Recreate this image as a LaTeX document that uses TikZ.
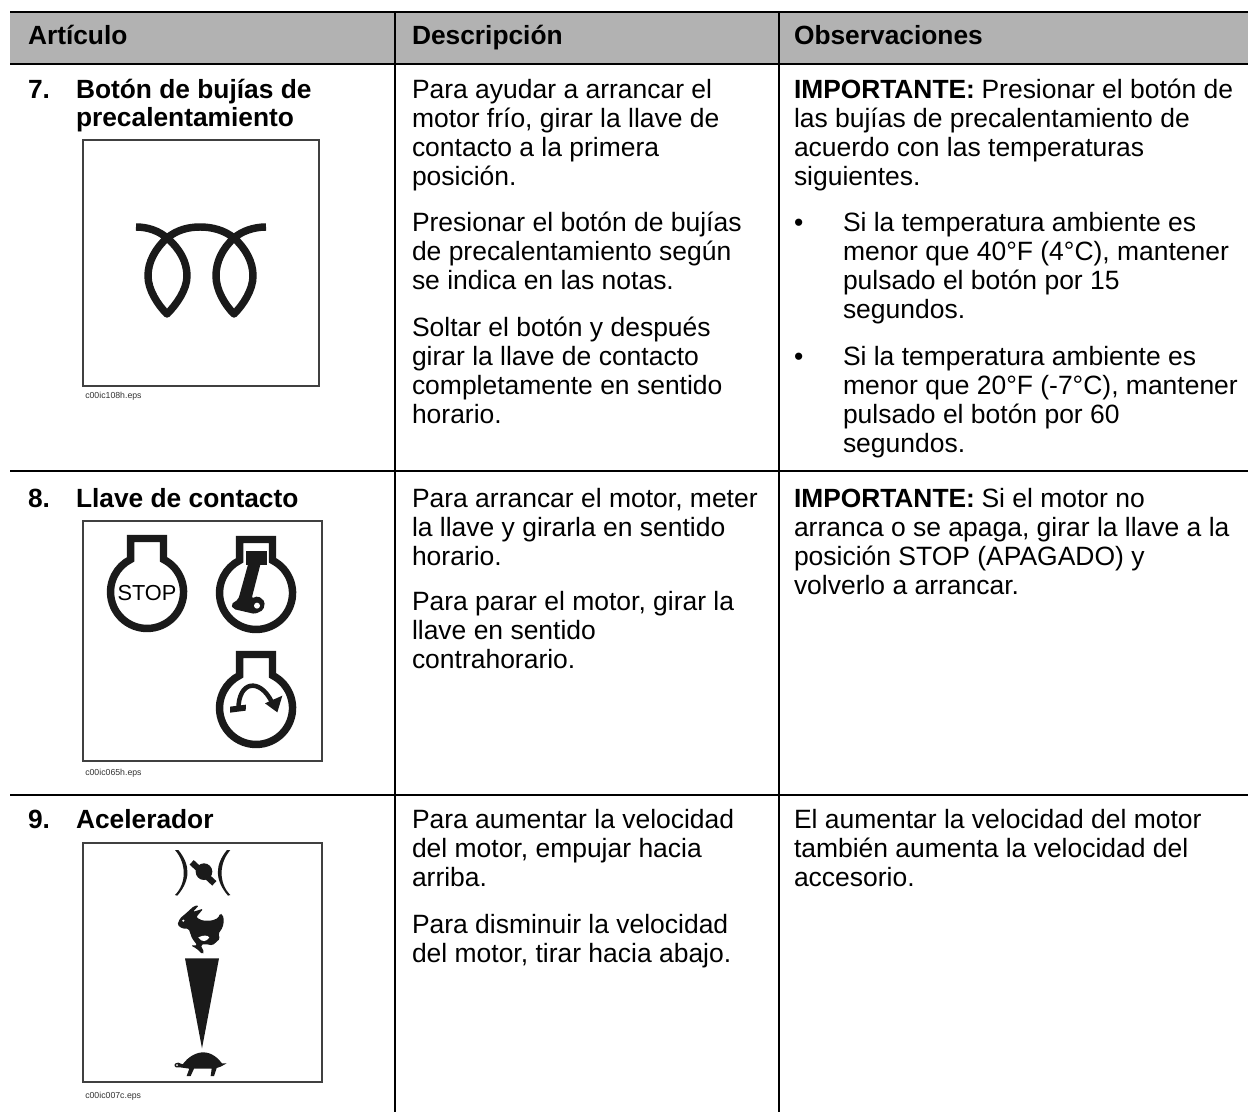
\documentclass[tikz,border=0pt]{standalone}
\usepackage{fontspec}
\setmainfont{Liberation Sans}
\definecolor{ink}{HTML}{1A1A1A}
\tikzset{
 x=0.75pt,y=-0.75pt,
 txt/.style={anchor=base west,inner sep=0pt,outer sep=0pt,font=\fontsize{19.85}{24}\selectfont,text=black},
 btxt/.style={txt,font=\fontsize{19.75}{24}\selectfont\bfseries},
 hd/.style={btxt},
 captxt/.style={anchor=base west,inner sep=0pt,font=\fontsize{6.55}{8}\selectfont,text=black!80},
 hrule/.style={line width=1.9pt,black},
 vrule/.style={line width=1.3pt,black},
 framebox/.style={draw=black!75,line width=0.9pt,fill=white},
 sym/.style={draw=ink,line width=5.6pt,fill=none,line join=miter},
 zoomed/.style={x=0.25pt,y=-0.25pt}
}
\newcommand{\keyshape}[3]{% centre x, centre y
 \draw[sym,#3] ({#1-16.5},{#2-53.5}) -- ({#1+16.5},{#2-53.5}) -- ({#1+16.5},{#2-32.6}) arc[start angle=-63.2,end angle=243.2,radius=36.5] -- cycle;
}
\begin{document}
\begin{tikzpicture}
\useasboundingbox (0,0) rectangle (1248,1112);
\fill[white] (0,0) rectangle (1248,1112);
\fill[black!30] (10,12) rectangle (1248,64);
\coordinate (hl) at (10,12); \coordinate (hr) at (1248,12);
\coordinate (ml) at (10,64); \coordinate (mr) at (1248,64);
\coordinate (al) at (10,471); \coordinate (ar) at (1248,471);
\coordinate (bl) at (10,795); \coordinate (br) at (1248,795);
\coordinate (ct) at (395,12); \coordinate (cb) at (395,1112);
\coordinate (dt) at (779,12); \coordinate (db) at (779,1112);
\draw[hrule] (hl) -- (hr);
\draw[hrule] (ml) -- (mr);
\draw[vrule] (al) -- (ar);
\draw[vrule] (bl) -- (br);
\draw[vrule] (ct) -- (cb);
\draw[vrule] (dt) -- (db);
% header
\node[hd] (h1) at (28,45) {Artículo};
\node[hd] (h2) at (412,45) {Descripción};
\node[hd] (h3) at (794,45) {Observaciones};
% column 1
\node[btxt] (n7) at (28,99) {7.};
\node[btxt] (t7a) at (76,99) {Botón de bujías de};
\node[btxt] (t7b) at (76,127) {precalentamiento};
\node[btxt] (n8) at (28,507) {8.};
\node[btxt] (t8) at (76,507) {Llave de contacto};
\node[btxt] (n9) at (28,828) {9.};
\node[btxt] (t9) at (76,828) {Acelerador};
% column 2
\node[txt] (d1) at (412,99) {Para ayudar a arrancar el};
\node[txt] (d2) at (412,128) {motor frío, girar la llave de};
\node[txt] (d3) at (412,157) {contacto a la primera};
\node[txt] (d4) at (412,186) {posición.};
\node[txt] (d5) at (412,232) {Presionar el botón de bujías};
\node[txt] (d6) at (412,261) {de precalentamiento según};
\node[txt] (d7) at (412,290) {se indica en las notas.};
\node[txt] (d8) at (412,336) {Soltar el botón y después};
\node[txt] (d9) at (412,365) {girar la llave de contacto};
\node[txt] (d10) at (412,394) {completamente en sentido};
\node[txt] (d11) at (412,423) {horario.};
\node[txt] (e1) at (412,507) {Para arrancar el motor, meter};
\node[txt] (e2) at (412,536) {la llave y girarla en sentido};
\node[txt] (e3) at (412,565) {horario.};
\node[txt] (e4) at (412,610) {Para parar el motor, girar la};
\node[txt] (e5) at (412,639) {llave en sentido};
\node[txt] (e6) at (412,668) {contrahorario.};
\node[txt] (f1) at (412,828) {Para aumentar la velocidad};
\node[txt] (f2) at (412,857) {del motor, empujar hacia};
\node[txt] (f3) at (412,886) {arriba.};
\node[txt] (f4) at (412,933) {Para disminuir la velocidad};
\node[txt] (f5) at (412,962) {del motor, tirar hacia abajo.};
% column 3
\node[btxt] (o0) at (794,99) {IMPORTANTE:};
\node[txt] (o1) at (o0.base east) [anchor=base west,xshift=5pt] {Presionar el botón de};
\node[txt] (o2) at (794,128) {las bujías de precalentamiento de};
\node[txt] (o3) at (794,157) {acuerdo con las temperaturas};
\node[txt] (o4) at (794,186) {siguientes.};
\node[txt] (b1) at (794,232) {•};
\node[txt] (o5) at (843,232) {Si la temperatura ambiente es};
\node[txt] (o6) at (843,261) {menor que 40°F (4°C), mantener};
\node[txt] (o7) at (843,290) {pulsado el botón por 15};
\node[txt] (o8) at (843,319) {segundos.};
\node[txt] (b2) at (794,365) {•};
\node[txt] (o9) at (843,365) {Si la temperatura ambiente es};
\node[txt] (o10) at (843,394) {menor que 20°F (-7°C), mantener};
\node[txt] (o11) at (843,423) {pulsado el botón por 60};
\node[txt] (o12) at (843,452) {segundos.};
\node[btxt] (p0) at (794,507) {IMPORTANTE:};
\node[txt] (p1) at (p0.base east) [anchor=base west,xshift=5pt] {Si el motor no};
\node[txt] (p2) at (794,536) {arranca o se apaga, girar la llave a la};
\node[txt] (p3) at (794,565) {posición STOP (APAGADO) y};
\node[txt] (p4) at (794,594) {volverlo a arrancar.};
\node[txt] (q1) at (794,828) {El aumentar la velocidad del motor};
\node[txt] (q2) at (794,857) {también aumenta la velocidad del};
\node[txt] (q3) at (794,886) {accesorio.};
% frames
\draw[framebox] (83,140) rectangle (319,386);
\node[captxt] (c1) at (85,398) {c00ic108h.eps};
\draw[framebox] (83,521) rectangle (322,761);
\node[captxt] (c2) at (85,775) {c00ic065h.eps};
\draw[framebox] (83,843) rectangle (322,1082);
\node[captxt] (c3) at (85,1098) {c00ic007c.eps};
% coil
\draw[draw=ink,line width=5.6pt,line join=round]
 (136,227) .. controls (148,227) and (159,231) .. (167,238)
 .. controls (180,249) and (187,262) .. (187,276)
 .. controls (187,290) and (176,305) .. (167,314)
 .. controls (158,305) and (148,290) .. (148,276)
 .. controls (148,262) and (155,249) .. (167,238)
 .. controls (177,230) and (188,227) .. (200,227)
 .. controls (212,227) and (224,230) .. (234,238)
 .. controls (246,249) and (253,262) .. (253,276)
 .. controls (253,290) and (243,305) .. (234,314)
 .. controls (225,305) and (216,290) .. (216,276)
 .. controls (216,262) and (222,249) .. (234,238)
 .. controls (242,231) and (254,227) .. (266,227);
% keys
\keyshape{147}{592}{}
\node[anchor=center,inner sep=0pt,font=\fontsize{16.3}{18}\selectfont,text=black] (stop) at (147,593) {STOP};
\keyshape{256}{593}{}
\keyshape{256}{708}{}
\begin{scope}[shift={(70,510)},zoomed]
 \fill[ink] (527,122) rectangle (590,165);
 \fill[ink,rounded corners=1.5pt] (535,160) -- (572,160) -- (545,265) -- (565,258) -- (585,275) -- (580,300) -- (555,312) -- (490,297) -- (483,283) -- (505,268) -- cycle;
 \fill[white] (561,287) circle[radius=9];
 % rotation arrow
 \draw[ink,line width=3.4pt] (505,600) .. controls (505,510) and (570,505) .. (605,575);
 \fill[ink] (480,590) -- (528,584) -- (527,602) -- (480,608) -- cycle;
 \fill[ink] (585,580) -- (637,557) -- (622,607) -- cycle;
\end{scope}
% throttle
\begin{scope}[shift={(70,830)},zoomed]
 \fill[ink] (315,60) .. controls (350,100) and (350,160) .. (315,195) -- (322,197) .. controls (362,150) and (362,105) .. (325,60) -- cycle;
 \fill[ink] (481,60) .. controls (446,100) and (446,160) .. (481,195) -- (474,197) .. controls (434,150) and (434,105) .. (471,60) -- cycle;
 \fill[ink] (402,125) circle[radius=25];
 \draw[ink,line width=4.6pt] (365,97) -- (433,160);
 % rabbit
 \fill[ink,rounded corners=1.2pt] (322,285) -- (330,265) -- (348,250) -- (372,228) -- (387,226) -- (368,246) -- (400,236) -- (378,262) -- (398,272) -- (425,272) -- (445,264) -- (450,250) -- (458,254) -- (462,272) -- (458,292) -- (445,312) -- (450,326) -- (428,346) -- (405,342) -- (392,345) -- (402,366) -- (398,373) -- (380,356) -- (362,346) -- (382,346) -- (366,325) -- (356,296) -- (338,296) -- cycle;
 \fill[white] (340,272) circle[radius=3.5];
 \fill[white] (385,322) .. controls (400,315) and (412,315) .. (418,322) .. controls (410,336) and (395,338) .. (385,322) -- cycle;
 % wedge
 \fill[ink] (345,385) -- (447,385) -- (396,655) -- cycle;
 % turtle
 \fill[ink] (338,703) .. controls (355,680) and (378,667) .. (400,667) .. controls (425,667) and (445,685) .. (456,700) -- (470,700) -- (452,710) -- (440,714) -- (432,738) -- (422,738) -- (425,716) -- (372,716) -- (362,738) -- (350,738) -- (358,716) -- (330,712) -- (318,712) .. controls (310,708) and (312,698) .. (325,698) -- cycle;
 \fill[white] (321,705) circle[radius=3];
\end{scope}
\end{tikzpicture}
\end{document}
